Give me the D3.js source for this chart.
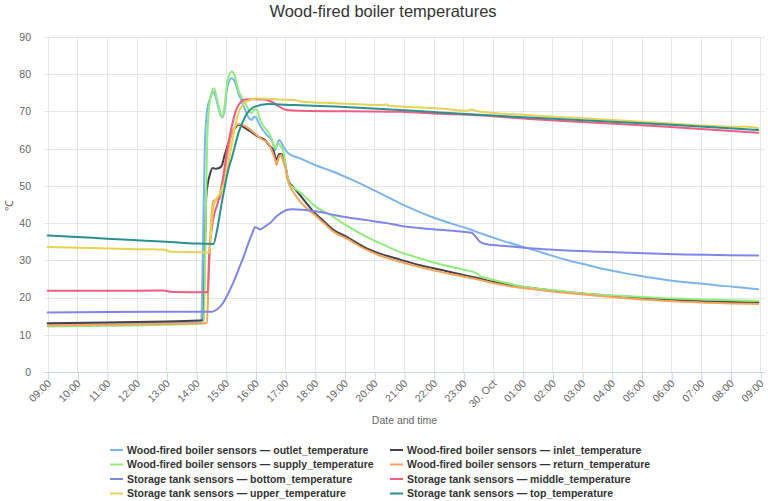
<!DOCTYPE html>
<html><head><meta charset="utf-8">
<script src="https://cdn.jsdelivr.net/npm/d3@7"></script>
<style>
html,body{margin:0;padding:0;background:#fff;}
svg{display:block;font-family:"Liberation Sans",Arial,sans-serif;}
</style></head><body>
<svg id="chart" width="768" height="501"></svg>
<script>
// ---------- data (hours after 29 Oct 09:00, °C) ----------
const startTime = new Date(2019, 9, 29, 9, 0);
const endTime = new Date(2019, 9, 30, 9, 0);
const yTickValues = [0, 10, 20, 30, 40, 50, 60, 70, 80, 90];
const chartTitle = "Wood-fired boiler temperatures";
const xAxisTitle = "Date and time";
const yAxisTitle = "℃";

const seriesNames = [
  "Wood-fired boiler sensors — outlet_temperature",
  "Wood-fired boiler sensors — inlet_temperature",
  "Wood-fired boiler sensors — supply_temperature",
  "Wood-fired boiler sensors — return_temperature",
  "Storage tank sensors — bottom_temperature",
  "Storage tank sensors — middle_temperature",
  "Storage tank sensors — upper_temperature",
  "Storage tank sensors — top_temperature"
];
const seriesColors = ["#7cb5ec", "#434348", "#90ed7d", "#f7a35c", "#8085e9", "#f15c80", "#e4d354", "#2b908f"];

const outletTemperature = [[0,12.8],[2,13.0],[4,13.2],[5.17,13.4],[5.22,30],[5.29,60],[5.37,70.5],[5.47,73.5],[5.58,75.3],[5.7,72.5],[5.82,69],[5.88,68.4],[5.95,70],[6.05,76.5],[6.2,78.9],[6.3,78],[6.42,74.9],[6.55,72.5],[6.65,70.4],[6.78,68.2],[6.86,67.7],[6.95,68.6],[7.02,68.4],[7.1,67],[7.21,65.5],[7.4,63.5],[7.54,62.3],[7.62,60.5],[7.66,59.6],[7.72,61],[7.79,62.3],[7.86,61.8],[7.94,60.5],[8.1,58.8],[8.5,57.4],[9,55.6],[9.62,53.8],[10.2,51.8],[10.74,49.8],[11.3,47.6],[11.87,45.3],[12.43,43.3],[12.99,41.5],[13.55,40.0],[14.11,38.6],[14.67,37.0],[15.23,35.5],[15.8,34.1],[16.36,32.8],[16.92,31.4],[17.48,30.1],[18.04,29],[18.6,27.9],[19.16,27],[19.72,26.1],[20.28,25.4],[20.85,24.7],[21.4,24.2],[21.97,23.8],[22.5,23.3],[23.09,22.9],[23.93,22.2]];

const inletTemperature = [[0,13.1],[2,13.3],[4,13.6],[5.24,13.9],[5.29,30],[5.34,47],[5.39,50.5],[5.46,53],[5.55,54.8],[5.65,54.6],[5.78,54.8],[5.86,55.4],[5.95,58],[6.08,61.4],[6.2,64.2],[6.31,65.5],[6.42,66.4],[6.5,66.3],[6.6,65.8],[6.76,65.0],[6.9,64.2],[7.04,63.4],[7.2,62.8],[7.32,62.3],[7.45,61],[7.6,59.6],[7.71,57.0],[7.79,58.5],[7.86,58.6],[7.92,57.8],[7.97,57.0],[8.03,54.5],[8.1,51.6],[8.3,49.4],[8.5,47.5],[8.75,45],[8.95,43.1],[9.3,40.5],[9.62,38.2],[10.07,36.3],[10.74,33.2],[11.19,31.8],[11.87,30.2],[12.43,28.9],[12.99,27.9],[13.7,26.6],[14.45,25.3],[14.79,24.6],[15.23,23.9],[16.36,22.5],[17.5,21.5],[18.6,20.7],[19.7,20.1],[20.85,19.5],[22,19.1],[23.93,18.7]];

const supplyTemperature = [[0,12.2],[2,12.4],[4,12.7],[5.26,13.0],[5.31,35],[5.37,62],[5.43,70.4],[5.5,74.5],[5.6,76.2],[5.7,73.5],[5.8,70],[5.88,68.6],[5.95,71],[6.05,78],[6.2,80.7],[6.3,79.5],[6.42,75.8],[6.55,73.5],[6.65,72.3],[6.78,70.2],[6.86,69.5],[6.95,70.5],[7.04,70.6],[7.12,68.5],[7.21,66.8],[7.35,65.2],[7.49,63.7],[7.6,61.2],[7.66,60.1],[7.72,61],[7.77,61.4],[7.86,60.5],[7.94,59.2],[8.05,53.5],[8.16,50.3],[8.3,49.4],[8.5,48.3],[8.95,44.9],[9.62,41.7],[10.07,39.3],[10.74,36.3],[11.19,34.6],[11.87,32.2],[12.43,30.8],[12.88,29.7],[13.5,28.4],[14.11,27.3],[14.45,26.5],[14.6,25.6],[14.79,25.2],[15.4,24],[16.02,22.9],[17,22],[18.04,21.1],[19.4,20.4],[20.85,19.8],[22.4,19.4],[23.93,19.1]];

const returnTemperature = [[0,12.5],[2,12.7],[4,12.9],[5.3,13.1],[5.36,13.3],[5.42,25],[5.5,40],[5.58,46],[5.8,46.5],[5.9,51],[5.97,54.3],[6.08,59.5],[6.2,64.1],[6.32,66],[6.42,66.6],[6.55,66.4],[6.76,65.5],[6.9,64.6],[7.04,63.7],[7.2,62.6],[7.43,61.4],[7.55,59.5],[7.66,57.0],[7.71,55.6],[7.79,57.8],[7.86,58.3],[7.92,57],[7.99,55.2],[8.1,51.1],[8.3,48],[8.5,45.8],[8.75,43.8],[8.95,42.5],[9.3,40],[9.62,37.7],[10.07,35.8],[10.74,32.8],[11.19,31.3],[11.87,29.6],[12.43,28.4],[12.99,27.3],[13.7,26.1],[14.45,24.9],[14.79,24.3],[15.23,23.5],[16.36,22.2],[17.5,21.2],[18.6,20.4],[19.7,19.7],[20.85,19.1],[22,18.7],[23.93,18.3]];

const bottomTemperature = [[0,16.0],[2,16.1],[4,16.2],[5.52,16.2],[5.7,16.8],[5.9,18.5],[6.08,21.1],[6.25,24],[6.42,27.4],[6.6,31],[6.76,34.6],[6.9,37.5],[6.98,38.9],[7.05,38.8],[7.15,38.3],[7.3,39],[7.54,40.4],[7.7,41.8],[7.88,42.8],[8.05,43.5],[8.22,43.7],[8.67,43.5],[9.23,42.9],[9.68,42.1],[10.2,41.4],[10.74,40.8],[11.42,40.0],[11.87,39.3],[12.5,38.7],[13.21,38.2],[14.0,37.7],[14.28,37.4],[14.4,36.5],[14.56,35.0],[14.79,34.3],[15.5,33.8],[16.36,33.2],[18.6,32.3],[20.85,31.7],[23.93,31.3]];

const middleTemperature = [[0,21.8],[2,21.8],[3.9,21.9],[4.2,21.5],[5.39,21.4],[5.43,30],[5.52,38.2],[5.6,42],[5.75,46],[5.9,52],[6.05,60],[6.2,66],[6.35,70.5],[6.5,72.5],[6.65,73.2],[7.0,73.3],[7.3,73.2],[7.54,72.6],[7.8,71.3],[8.05,70.4],[8.5,70.2],[11.87,69.9],[13.21,69.4],[14.45,69.0],[16.36,67.9],[18.6,66.9],[20.85,65.9],[23.93,64.3]];

const upperTemperature = [[0,33.6],[1,33.4],[2,33.2],[3,33.0],[3.9,32.9],[4.1,32.4],[5,32.2],[5.45,32.1],[5.52,40],[5.6,45],[5.8,48],[5.97,51.5],[6.15,59],[6.31,65.9],[6.42,69.5],[6.53,71.3],[6.65,72.4],[6.76,72.9],[7.09,73.5],[7.77,73.2],[8.3,73.1],[8.5,72.7],[9.68,72.2],[11.3,71.7],[11.4,71.9],[11.5,71.5],[11.87,71.3],[13.21,70.8],[14.11,70.2],[14.28,70.5],[14.45,70.1],[16.36,68.9],[18.6,67.9],[20.85,66.8],[23.09,65.9],[23.6,65.9],[23.93,65.5]];

const topTemperature = [[0,36.7],[1,36.3],[2,35.8],[3,35.4],[4,35.0],[5,34.5],[5.58,34.4],[5.7,38],[5.86,45.3],[6.08,54.3],[6.2,57.5],[6.42,64.1],[6.65,68.6],[6.98,71.3],[7.43,72.0],[8.3,71.7],[9.68,71.3],[11.87,70.4],[13.21,69.7],[16.36,68.3],[20.85,66.5],[23.93,65.0]];

const seriesValues = [outletTemperature, inletTemperature, supplyTemperature, returnTemperature,
  bottomTemperature, middleTemperature, upperTemperature, topTemperature];

// ---------- layout ----------
const plotLeft = 44, plotRight = 765, plotTop = 37, plotBottom = 372;
const svg = d3.select("#chart");

const toDate = h => new Date(startTime.getTime() + h * 3600000);

const x = d3.scaleTime().domain([startTime, endTime]).range([47.7, 760.3]);
const y = d3.scaleLinear().domain([0, 90]).range([plotBottom, plotTop]);

// title
svg.append("text").attr("x", 383).attr("y", 17).attr("text-anchor", "middle")
  .attr("fill", "#333").style("font-size", "16.5px").text(chartTitle);

// horizontal grid
svg.append("g").selectAll("line").data(yTickValues).join("line")
  .attr("x1", plotLeft).attr("x2", plotRight)
  .attr("y1", d => Math.round(y(d)) + 0.5).attr("y2", d => Math.round(y(d)) + 0.5)
  .attr("stroke", "#e6e6e6");

// vertical grid
const xTicks = x.ticks(d3.timeHour.every(1));
svg.append("g").selectAll("line").data(xTicks).join("line")
  .attr("x1", d => Math.round(x(d)) + 0.5).attr("x2", d => Math.round(x(d)) + 0.5)
  .attr("y1", plotTop).attr("y2", plotBottom)
  .attr("stroke", "#e6e6e6");

// x axis
const fmtHour = d3.timeFormat("%H:%M"), fmtDay = d3.timeFormat("%d. %b");
const xAxis = d3.axisBottom(x).ticks(d3.timeHour.every(1))
  .tickFormat(d => d.getHours() === 0 ? fmtDay(d) : fmtHour(d))
  .tickSizeInner(10).tickSizeOuter(0).tickPadding(6);
const gx = svg.append("g").attr("transform", `translate(0,${plotBottom + 0.5})`).call(xAxis);
gx.select(".domain").remove();
gx.append("line").attr("x1", plotLeft).attr("x2", plotRight).attr("stroke", "#ccd6eb");
gx.selectAll(".tick line").attr("stroke", "#ccd6eb").attr("transform", "translate(0.5,0)");
gx.selectAll(".tick text")
  .attr("fill", "#666").style("font-size", "10.5px")
  .attr("text-anchor", "end").attr("dy", "0.35em")
  .attr("transform", "translate(1,9) rotate(-45)")
  .attr("y", 0).attr("x", 0);

// y axis labels
const yAxis = d3.axisLeft(y).tickValues(yTickValues).tickSize(0).tickPadding(0);
const gy = svg.append("g").attr("transform", `translate(31,0)`).call(yAxis);
gy.select(".domain").remove();
gy.selectAll(".tick text").attr("fill", "#666").style("font-size", "10.5px");

// axis titles
svg.append("text").attr("x", 404.5).attr("y", 424).attr("text-anchor", "middle")
  .attr("fill", "#666").style("font-size", "10.5px").text(xAxisTitle);
svg.append("text").attr("transform", "translate(13,205) rotate(-90)").attr("text-anchor", "middle")
  .attr("fill", "#666").style("font-size", "11px").text(yAxisTitle);

// lines
const line = d3.line().x(d => x(toDate(d[0]))).y(d => y(d[1])).curve(d3.curveMonotoneX);
svg.append("g").selectAll("path").data(seriesValues).join("path")
  .attr("d", d => line(d)).attr("fill", "none")
  .attr("stroke", (d, i) => seriesColors[i]).attr("stroke-width", 2)
  .attr("stroke-linejoin", "round").attr("stroke-linecap", "round");

// legend
const legendCols = [110, 390], legendRowY = [450, 464.5, 479, 493.5];
const lg = svg.append("g").selectAll("g").data(seriesNames).join("g")
  .attr("transform", (d, i) => `translate(${legendCols[i % 2]},${legendRowY[Math.floor(i / 2)]})`);
lg.append("line").attr("x1", 0).attr("x2", 13).attr("y1", 0).attr("y2", 0)
  .attr("stroke", (d, i) => seriesColors[i]).attr("stroke-width", 2);
lg.append("text").attr("x", 17).attr("y", 0).attr("dy", "0.35em")
  .attr("fill", "#333").style("font-size", "10.5px").style("font-weight", "bold").text(d => d);
</script>
</body></html>
